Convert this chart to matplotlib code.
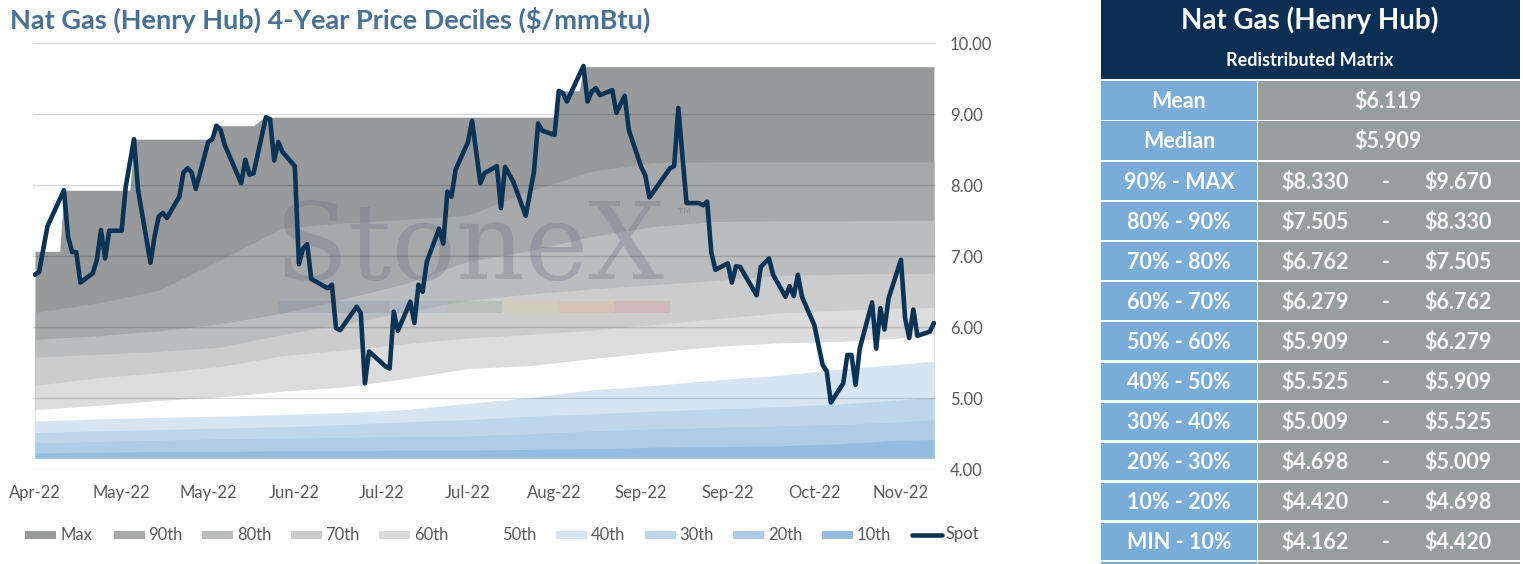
import numpy as np
import matplotlib
matplotlib.use('Agg')
import matplotlib.pyplot as plt
from matplotlib.patches import Rectangle
from matplotlib.lines import Line2D

plt.rcParams['font.family'] = ['Lato', 'DejaVu Sans']

W, H = 1523, 564

# ---------------- data ----------------
# x = calendar days counted from Monday 11-Apr-2022
tick_days = [0, 21, 42, 63, 84, 105, 126, 147, 168, 189, 210]
tick_labels = ['Apr-22', 'May-22', 'May-22', 'Jun-22', 'Jul-22', 'Jul-22',
               'Aug-22', 'Sep-22', 'Sep-22', 'Oct-22', 'Nov-22']

spot_days = [0, 1, 3, 7, 8, 9, 10, 11, 14, 15, 16, 17, 18, 21, 22, 24, 25,
             28, 29, 30, 31, 32, 35, 36, 37, 38, 39, 42, 43, 44, 45, 46,
             50, 51, 52, 53, 56, 57, 58, 59, 60, 63, 64, 65, 66, 67,
             71, 72, 73, 74, 78, 79, 80, 81, 85, 86, 87, 88,
             91, 92, 93, 94, 95, 98, 99, 100, 101, 102, 105, 106, 108, 109,
             112, 113, 114, 116, 119, 121, 122, 123, 126, 127, 128, 129,
             133, 134, 135, 136, 137, 140, 141, 143, 144, 147, 148, 149,
             154, 155, 156, 158, 161, 162, 163, 164, 165, 168, 169, 170, 171,
             175, 176, 178, 179, 182, 183, 184, 185, 186, 189, 191, 192, 193,
             196, 197, 198, 199, 200, 203, 204, 205, 206, 207,
             210, 211, 212, 213, 214, 217, 218]
spot_vals = [6.74, 6.78, 7.42, 7.93, 7.28, 7.06, 7.06, 6.63, 6.76, 6.95, 7.37, 6.97, 7.36, 7.36, 7.98, 8.65, 7.93,
             6.91, 7.28, 7.56, 7.61, 7.54, 7.84, 8.18, 8.24, 8.18, 7.95, 8.61, 8.65, 8.84, 8.78, 8.57,
             8.03, 8.36, 8.15, 8.17, 8.96, 8.93, 8.35, 8.61, 8.47, 8.27, 6.89, 7.11, 7.17, 6.68,
             6.55, 6.60, 5.99, 5.96, 6.29, 6.20, 5.21, 5.66, 5.45, 5.42, 6.22, 5.95,
             6.36, 6.06, 6.60, 6.50, 6.92, 7.39, 7.18, 7.91, 7.84, 8.22, 8.61, 8.91, 8.03, 8.17,
             8.27, 7.68, 8.26, 8.05, 7.57, 8.19, 8.87, 8.77, 8.71, 9.33, 9.30, 9.18,
             9.68, 9.18, 9.32, 9.37, 9.27, 9.34, 9.02, 9.26, 8.78, 8.26, 8.14, 7.83,
             8.24, 8.27, 9.09, 7.75, 7.75, 7.72, 7.77, 7.06, 6.81, 6.90, 6.63, 6.86, 6.85,
             6.45, 6.85, 6.97, 6.74, 6.43, 6.58, 6.44, 6.74, 6.43, 6.03, 5.47, 5.38, 4.94,
             5.21, 5.61, 5.61, 5.19, 5.70, 6.35, 5.70, 6.27, 5.97, 6.41,
             6.95, 6.13, 5.85, 6.25, 5.88, 5.94, 6.06]

# running 4-year max
max_days = [0, 6, 7, 23, 24, 43, 44, 53, 55, 56, 126, 127, 132, 133, 218]
max_vals = [7.07, 7.07, 7.93, 7.93, 8.65, 8.65, 8.84, 8.84, 8.93, 8.96, 8.96, 9.33, 9.33, 9.67, 9.67]

# decile lines
band_days = [0, 15, 30, 45, 60, 75, 90, 105, 120, 135, 150, 165, 180, 195, 210, 218]
p_min = [4.16, 4.16, 4.16, 4.16, 4.16, 4.16, 4.16, 4.16, 4.16, 4.16, 4.16, 4.16, 4.16, 4.16, 4.16, 4.16]
p10 = [4.23, 4.24, 4.25, 4.25, 4.26, 4.26, 4.27, 4.27, 4.28, 4.29, 4.31, 4.32, 4.33, 4.36, 4.41, 4.42]
p20 = [4.37, 4.39, 4.41, 4.43, 4.44, 4.45, 4.46, 4.47, 4.50, 4.54, 4.57, 4.59, 4.61, 4.63, 4.67, 4.70]
p30 = [4.52, 4.54, 4.56, 4.58, 4.60, 4.63, 4.67, 4.70, 4.75, 4.78, 4.82, 4.85, 4.88, 4.92, 4.98, 5.01]
p40 = [4.68, 4.71, 4.73, 4.75, 4.77, 4.80, 4.84, 4.93, 5.01, 5.12, 5.18, 5.26, 5.32, 5.41, 5.48, 5.525]
p50 = [4.84, 4.90, 4.97, 5.02, 5.10, 5.16, 5.28, 5.42, 5.46, 5.56, 5.65, 5.73, 5.78, 5.80, 5.85, 5.90]
p60 = [5.18, 5.29, 5.36, 5.45, 5.60, 5.68, 5.77, 5.85, 5.90, 5.96, 6.04, 6.12, 6.20, 6.24, 6.27, 6.28]
p70 = [5.58, 5.62, 5.66, 5.72, 5.90, 6.05, 6.22, 6.38, 6.47, 6.54, 6.60, 6.66, 6.73, 6.75, 6.76, 6.76]
p80 = [5.83, 5.88, 5.95, 6.05, 6.20, 6.40, 6.62, 6.93, 7.08, 7.28, 7.42, 7.49, 7.50, 7.50, 7.505, 7.505]
p90 = [6.21, 6.34, 6.52, 6.95, 7.40, 7.47, 7.52, 7.58, 7.92, 8.20, 8.32, 8.33, 8.33, 8.33, 8.33, 8.33]

band_names = ['Max', '90th', '80th', '70th', '60th', '50th', '40th', '30th', '20th', '10th']
band_colors = ['#98999b', '#a7a8aa', '#bbbcbe', '#cccccc', '#dcdcdc', '#ffffff',
               '#d7e5f2', '#bed6ea', '#aecce5', '#94bcde']
spot_color = '#0b3356'

# table on the right
table_title = 'Nat Gas (Henry Hub)'
table_sub = 'Redistributed Matrix'
stat_labels = ['Mean', 'Median']
stat_vals = [6.119, 5.909]
range_labels = ['90% - MAX', '80% - 90%', '70% - 80%', '60% - 70%', '50% - 60%',
                '40% - 50%', '30% - 40%', '20% - 30%', '10% - 20%', 'MIN - 10%']
range_lo = [8.330, 7.505, 6.762, 6.279, 5.909, 5.525, 5.009, 4.698, 4.420, 4.162]
range_hi = [9.670, 8.330, 7.505, 6.762, 6.279, 5.909, 5.525, 5.009, 4.698, 4.420]


def fx(px):
    return px / W


def fy(py):
    return 1 - py / H


fig = plt.figure(figsize=(W / 100, H / 100), dpi=100)
fig.patch.set_facecolor('white')

# plot area 33..936 px wide, 43..469 px high
ax = fig.add_axes([fx(33), fy(469.3), (936 - 33) / W, (469.3 - 43.3) / H])
ax.set_xlim(-0.49, 218.5)
ax.set_ylim(4, 10)

# ---- bands (painted from the top down) ----
base_max = np.interp(max_days, band_days, p_min)
ax.fill_between(max_days, base_max, max_vals, color=band_colors[0], lw=0, zorder=1)
lines = [p90, p80, p70, p60, p50, p40, p30, p20, p10]
for line, col in zip(lines, band_colors[1:]):
    ax.fill_between(band_days, p_min, line, color=col, lw=0, zorder=1)

# watermark
ax.text(0.268, 0.447, 'StoneX', transform=ax.transAxes, family='DejaVu Serif',
        fontsize=77, color='#6b7580', alpha=0.33, ha='left', va='baseline', zorder=2)
ax.text(0.713, 0.595, '™', transform=ax.transAxes, fontsize=13,
        color='#6b7580', alpha=0.4, ha='left', va='center', zorder=2)
bar_edges = [278, 390, 446, 502, 558, 614, 670]
bar_cols = ['#7a8ea3', '#8ea8c0', '#8aa58e', '#d4cc96', '#e4b488', '#dc8f9b']
for i, c in enumerate(bar_cols):
    x0 = (bar_edges[i] - 33) / 903
    x1 = (bar_edges[i + 1] - 33) / 903
    ax.add_patch(Rectangle((x0, 0.366), x1 - x0, 0.030, transform=ax.transAxes,
                           color=c, alpha=0.3, lw=0, zorder=2))

# gridlines on top of the bands
for yv in range(4, 11):
    ax.axhline(yv, color='black', alpha=0.15, lw=1.0, zorder=3)

ax.plot(spot_days, spot_vals, color=spot_color, lw=3.3, solid_joinstyle='round',
        solid_capstyle='round', zorder=5)

for s in ax.spines.values():
    s.set_visible(False)
ax.yaxis.tick_right()
ax.set_yticks(range(4, 11))
ax.set_yticklabels([f'{v:.2f}' for v in range(4, 11)])
ax.set_xticks(tick_days)
ax.set_xticklabels(tick_labels)
ax.tick_params(axis='y', length=0, pad=10, labelsize=12, labelcolor='#595959')
ax.tick_params(axis='x', length=0, pad=11, labelsize=12, labelcolor='#595959')

fig.text(fx(10), fy(20), 'Nat Gas (Henry Hub) 4-Year Price Deciles ($/mmBtu)',
         fontsize=19.5, fontweight='bold', color='#4a7194', ha='left', va='center')

# ---- legend along the bottom ----
for i, (name, col) in enumerate(zip(band_names, band_colors)):
    x0 = 25 + 88.5 * i
    fig.add_artist(Rectangle((fx(x0), fy(539)), 31 / W, 8.3 / H,
                             transform=fig.transFigure, color=col, lw=0))
    fig.text(fx(x0 + 35), fy(534.5), name, fontsize=12, color='#595959',
             ha='left', va='center')
x0 = 25 + 88.5 * 10
fig.add_artist(Line2D([fx(x0 + 2), fx(x0 + 32)], [fy(534.5), fy(534.5)],
                      transform=fig.transFigure, color=spot_color, lw=3.3,
                      solid_capstyle='round'))
fig.text(fx(x0 + 35), fy(534.5), 'Spot', fontsize=12, color='#595959',
         ha='left', va='center')

# ---- matrix table ----
navy = '#0b2f52'
blue = '#79acd6'
grey = '#979f9e'
tl, tm, tr = 1101, 1257.5, 1520


def box(x0, y0, x1, y1, col):
    fig.add_artist(Rectangle((fx(x0), fy(y1)), (x1 - x0) / W, (y1 - y0) / H,
                             transform=fig.transFigure, color=col, lw=0))


box(tl, 0, tr, 79.3, navy)
fig.text(fx(1310), fy(20), table_title, fontsize=20, fontweight='bold',
         color='white', ha='center', va='center')
fig.text(fx(1310), fy(61), table_sub, fontsize=13, fontweight='bold',
         color='white', ha='center', va='center')

row_labels = stat_labels + range_labels
for i, lab in enumerate(row_labels):
    top = 81 + 40 * i + (1 if i >= 2 else 0) + (0.5 if i >= 7 else 0)
    bot = 81 + 40 * (i + 1) - 1.5
    box(tl, top, tm - 0.8, bot, blue)
    box(tm + 0.8, top, tr, bot, grey)
    yc = (top + bot) / 2 + 1.5
    fig.text(fx(1179), fy(yc), lab, fontsize=15.5, fontweight='bold',
             color='white', ha='center', va='center')
    if i < 2:
        fig.text(fx(1388), fy(yc), f'${stat_vals[i]:.3f}', fontsize=15.5,
                 fontweight='bold', color='#f8f8f8', ha='center', va='center')
    else:
        j = i - 2
        fig.text(fx(1315), fy(yc), f'${range_lo[j]:.3f}', fontsize=15.5,
                 fontweight='bold', color='#f8f8f8', ha='center', va='center')
        fig.text(fx(1386), fy(yc), '-', fontsize=15.5, fontweight='bold',
                 color='#f8f8f8', ha='center', va='center')
        fig.text(fx(1458), fy(yc), f'${range_hi[j]:.3f}', fontsize=15.5,
                 fontweight='bold', color='#f8f8f8', ha='center', va='center')

# start of the next (cut off) row
box(tl, 561.5, tm - 0.8, 564, blue)
box(tm + 0.8, 561.5, tr, 564, grey)

fig.savefig('out.png', dpi=100, facecolor='white')
